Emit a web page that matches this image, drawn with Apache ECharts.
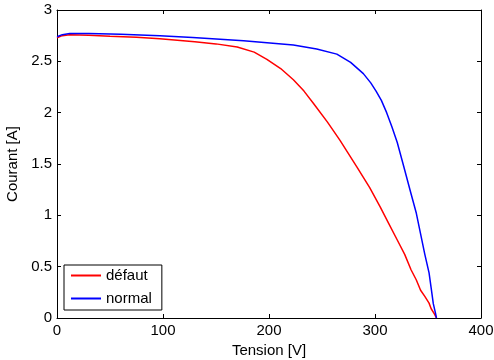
<!DOCTYPE html>
<html><head><meta charset="utf-8">
<script src="https://cdn.jsdelivr.net/npm/echarts@6/dist/echarts.min.js"></script>
<style>html,body{margin:0;padding:0;background:#fff}#c{width:494px;height:360px}</style>
</head><body><div id="c"></div>
<script>
const xLabel = 'Tension [V]';
const yLabel = 'Courant [A]';
const seriesNames = ['défaut', 'normal'];
const defautV = [0, 5, 12, 30, 50, 75, 97, 130, 150, 170, 186, 198, 211, 223, 233, 242, 255, 267, 283, 295, 305, 313, 321, 328, 334, 339, 343, 347, 351, 353, 356, 358];
const defautI = [2.73, 2.75, 2.76, 2.755, 2.745, 2.735, 2.72, 2.69, 2.67, 2.64, 2.59, 2.52, 2.43, 2.32, 2.21, 2.09, 1.91, 1.73, 1.47, 1.27, 1.08, 0.92, 0.76, 0.62, 0.47, 0.37, 0.27, 0.21, 0.145, 0.09, 0.04, 0.0];
const normalV = [0, 5, 12, 30, 60, 97, 128, 176, 223, 245, 264, 277, 289, 296, 301, 306, 311, 316, 321, 327, 334, 339, 343, 347, 351, 353, 355, 357, 358];
const normalI = [2.74, 2.76, 2.77, 2.77, 2.765, 2.75, 2.733, 2.70, 2.66, 2.62, 2.57, 2.49, 2.38, 2.29, 2.21, 2.12, 2.0, 1.86, 1.71, 1.48, 1.21, 1.02, 0.82, 0.62, 0.44, 0.29, 0.14, 0.05, 0.0];
const xTicks = [0, 100, 200, 300, 400];
const yTicks = [0, 0.5, 1, 1.5, 2, 2.5, 3];

const toPairs = (xs, ys) => xs.map((x, i) => [x, ys[i]]);
const font = 'Liberation Sans, Arial, sans-serif';
const fs = 15;
const chart = echarts.init(document.getElementById('c'), null, {renderer: 'canvas'});
const tick = {show: true, inside: true, length: 4, lineStyle: {color: '#000', width: 1}};
const line = {show: true, onZero: false, lineStyle: {color: '#000', width: 1}};
chart.setOption({
  animation: false,
  backgroundColor: '#fff',
  grid: {left: 57, right: 13, top: 10, bottom: 42, containLabel: false, outerBoundsMode: 'none'},
  xAxis: [{
    type: 'value', min: xTicks[0], max: xTicks[xTicks.length - 1], interval: xTicks[1] - xTicks[0],
    name: xLabel, nameLocation: 'middle', nameGap: 19,
    nameTextStyle: {color: '#000', fontSize: fs, fontFamily: font},
    axisLine: line, axisTick: tick, splitLine: {show: false},
    axisLabel: {color: '#000', fontSize: fs, fontFamily: font, margin: 5}
  }, {
    type: 'value', min: xTicks[0], max: xTicks[xTicks.length - 1], interval: xTicks[1] - xTicks[0], position: 'top',
    axisLine: line, axisTick: tick, splitLine: {show: false}, axisLabel: {show: false}
  }],
  yAxis: [{
    type: 'value', min: yTicks[0], max: yTicks[yTicks.length - 1], interval: yTicks[1] - yTicks[0],
    name: yLabel, nameLocation: 'middle', nameGap: 31, nameRotate: 90,
    nameTextStyle: {color: '#000', fontSize: fs, fontFamily: font},
    axisLine: line, axisTick: tick, splitLine: {show: false},
    axisLabel: {color: '#000', fontSize: fs, fontFamily: font, margin: 5}
  }, {
    type: 'value', min: yTicks[0], max: yTicks[yTicks.length - 1], interval: yTicks[1] - yTicks[0], position: 'right',
    axisLine: line, axisTick: tick, splitLine: {show: false}, axisLabel: {show: false}
  }],
  legend: {
    orient: 'vertical', left: 64, top: 265,
    data: seriesNames,
    icon: 'rect', itemWidth: 30, itemHeight: 2, itemGap: 8,
    padding: [3, 10, 4, 7],
    borderColor: '#000', borderWidth: 1, backgroundColor: '#fff',
    textStyle: {color: '#000', fontSize: fs, fontFamily: font}
  },
  series: [{
    name: seriesNames[0], type: 'line', showSymbol: false, symbol: 'none',
    data: toPairs(defautV, defautI), color: '#ff0000',
    lineStyle: {color: '#ff0000', width: 1.5}
  }, {
    name: seriesNames[1], type: 'line', showSymbol: false, symbol: 'none',
    data: toPairs(normalV, normalI), color: '#0000ff',
    lineStyle: {color: '#0000ff', width: 1.5}
  }]
});
</script></body></html>
